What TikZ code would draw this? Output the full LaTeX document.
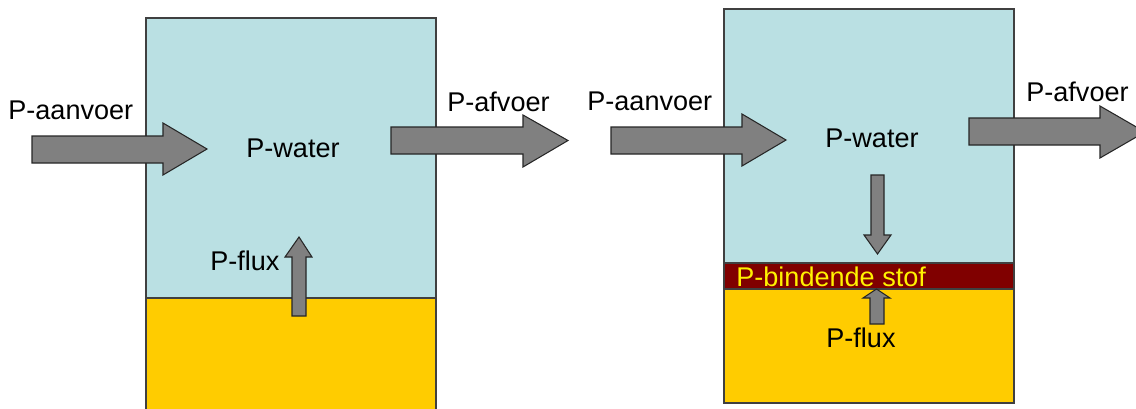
\documentclass[tikz,border=0pt]{standalone}
\usepackage{fontspec}
\setmainfont{Liberation Sans}
\usepackage{tikz}
\usetikzlibrary{positioning}
\definecolor{waterblue}{RGB}{186,224,227}
\definecolor{sedyellow}{RGB}{255,204,0}
\definecolor{binderred}{RGB}{128,0,0}
\definecolor{flowgray}{RGB}{128,128,128}
\tikzset{
  water/.style={fill=waterblue, draw=black!75, line width=0.6pt},
  sediment/.style={fill=sedyellow, draw=black!75, line width=0.6pt},
  binder/.style={fill=binderred, draw=black!75, line width=0.6pt},
  flow/.style={fill=flowgray, draw=black!85, line width=0.6pt, line join=miter},
  label/.style={inner sep=0pt, anchor=base west, font=\fontsize{15.4}{18}\selectfont},
}

\begin{document}
\begin{tikzpicture}[
  scale=1.00,
]

  \useasboundingbox (0,0) rectangle (22.72,-8.16);

  % Left basin
  \filldraw[sediment] (2.92,-5.96) rectangle (8.72,-8.40);
  \filldraw[water]    (2.92,-0.36) rectangle (8.72,-5.96);

  % Right basin
  \filldraw[sediment] (14.48,-5.78) rectangle (20.28,-8.06);
  \filldraw[binder]   (14.48,-5.26) rectangle (20.28,-5.78);
  \filldraw[water]    (14.48,-0.18) rectangle (20.28,-5.26);

  % Flows left basin
  \draw[flow] (0.64,-2.72) -- (3.26,-2.72) -- (3.26,-2.46) -- (4.14,-2.98)
    -- (3.26,-3.50) -- (3.26,-3.26) -- (0.64,-3.26) -- cycle;
  \draw[flow] (7.82,-2.54) -- (10.46,-2.54) -- (10.46,-2.30) -- (11.36,-2.81)
    -- (10.46,-3.34) -- (10.46,-3.08) -- (7.82,-3.08) -- cycle;
  \draw[flow] (5.84,-6.32) -- (5.84,-5.14) -- (5.70,-5.14) -- (5.98,-4.74)
    -- (6.24,-5.14) -- (6.12,-5.14) -- (6.12,-6.32) -- cycle;

  % Flows right basin
  \draw[flow] (12.22,-2.54) -- (14.84,-2.54) -- (14.84,-2.28) -- (15.72,-2.80)
    -- (14.84,-3.32) -- (14.84,-3.08) -- (12.22,-3.08) -- cycle;
  \draw[flow] (19.38,-2.36) -- (22.00,-2.36) -- (22.00,-2.12) -- (22.90,-2.64)
    -- (22.00,-3.16) -- (22.00,-2.90) -- (19.38,-2.90) -- cycle;
  \draw[flow] (17.42,-3.50) -- (17.42,-4.70) -- (17.28,-4.70) -- (17.55,-5.08)
    -- (17.82,-4.70) -- (17.68,-4.70) -- (17.68,-3.50) -- cycle;
  \draw[flow] (17.40,-6.48) -- (17.40,-5.96) -- (17.26,-5.96) -- (17.53,-5.78)
    -- (17.80,-5.96) -- (17.68,-5.96) -- (17.68,-6.48) -- cycle;

  % Annotations left basin
  \node[label] (aanvoerL) at (0.16,-2.38)  {P-aanvoer};
  \node[label] (waterL)   at (4.92,-3.14)  {P-water};
  \node[label] (afvoerL)  at (8.94,-2.22)  {P-afvoer};
  \node[label] (fluxL)    at (4.20,-5.40)  {P-flux};

  % Annotations right basin
  \node[label] (aanvoerR) at (11.74,-2.20) {P-aanvoer};
  \node[label] (waterR)   at (16.50,-2.94) {P-water};
  \node[label] (afvoerR)  at (20.52,-2.02) {P-afvoer};
  \node[label, text=yellow] (binderR) at (14.72,-5.72) {P-bindende stof};
  \node[label] (fluxR)    at (16.52,-6.94) {P-flux};

\end{tikzpicture}
\end{document}
